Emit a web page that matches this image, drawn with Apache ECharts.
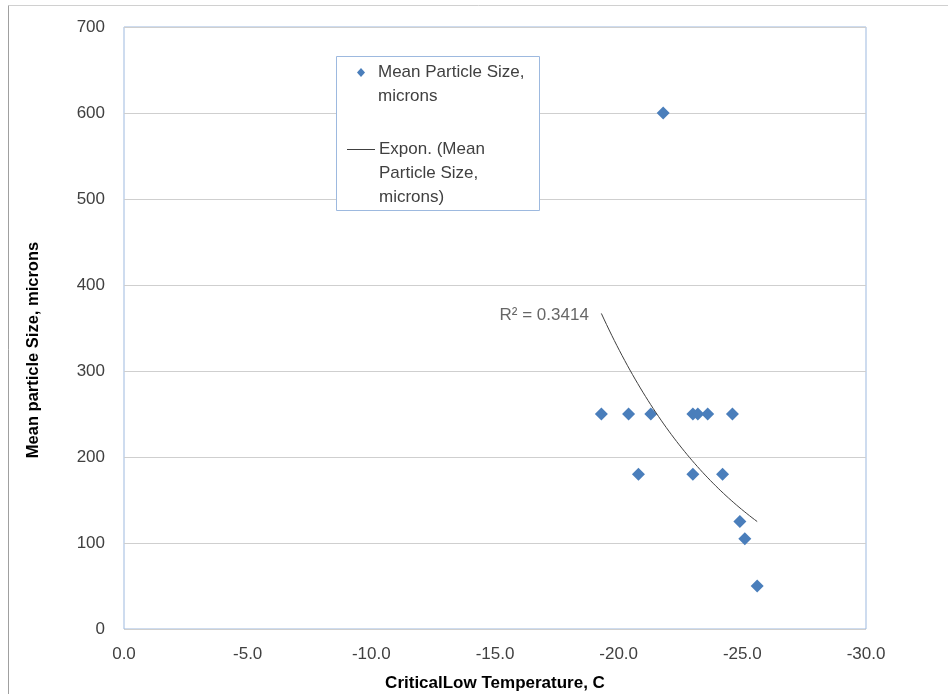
<!DOCTYPE html>
<html>
<head>
<meta charset="utf-8">
<script src="https://cdn.jsdelivr.net/npm/echarts@6/dist/echarts.min.js"></script>
<style>
html,body{margin:0;padding:0;background:#fff;}
#c{width:948px;height:694px;}
</style>
</head>
<body>
<div id="c"></div>
<script>
// Data
const temps = [-19.3, -20.4, -21.3, -20.8, -21.8, -23.0, -23.2, -23.6, -24.6, -23.0, -24.2, -24.9, -25.1, -25.6];
const sizes = [250, 250, 250, 180, 600, 250, 250, 250, 250, 180, 180, 125, 105, 50];
const seriesName = 'Mean Particle Size, microns';
const trendName = 'Expon. (Mean Particle Size, microns)';
const r2Text = 'R² = 0.3414';
const xAxisTitle = 'CriticalLow Temperature, C';
const yAxisTitle = 'Mean particle Size, microns';

// Exponential least-squares fit (Excel "Expon." trendline) of the data above
function expFit(xs, ys) {
  const n = xs.length;
  const ly = ys.map(v => Math.log(v));
  const mx = xs.reduce((a, b) => a + b, 0) / n;
  const my = ly.reduce((a, b) => a + b, 0) / n;
  let sxy = 0, sxx = 0;
  for (let i = 0; i < n; i++) { sxy += (xs[i] - mx) * (ly[i] - my); sxx += (xs[i] - mx) * (xs[i] - mx); }
  const b = sxy / sxx;
  const a = Math.exp(my - b * mx);
  return x => a * Math.exp(b * x);
}
const fit = expFit(temps, sizes);
const xMax = Math.max(...temps), xMin = Math.min(...temps);
const trend = [];
const steps = 60;
for (let i = 0; i <= steps; i++) {
  const x = xMax + (xMin - xMax) * i / steps;
  trend.push([x, fit(x)]);
}

const FONT = 'Liberation Sans';
const chart = echarts.init(document.getElementById('c'), null, { renderer: 'canvas' });
chart.setOption({
  animation: false,
  backgroundColor: '#ffffff',
  grid: {
    left: 124, right: 82, top: 27, bottom: 65,
    show: true, borderColor: '#9DB9DF', borderWidth: 1,
    containLabel: false, outerBoundsMode: 'none'
  },
  xAxis: {
    type: 'value', inverse: true, min: -30, max: 0, interval: 5,
    name: xAxisTitle, nameLocation: 'middle', nameGap: 46,
    nameTextStyle: { fontFamily: FONT, fontSize: 17, fontWeight: 'bold', color: '#000' },
    axisLine: { show: false },
    axisTick: { show: false },
    splitLine: { show: false },
    axisLabel: { margin: 17, fontFamily: FONT, fontSize: 17, color: '#404040',
                 formatter: v => (v === 0 ? 0 : v).toFixed(1) }
  },
  yAxis: {
    type: 'value', min: 0, max: 700, interval: 100,
    name: yAxisTitle, nameLocation: 'middle', nameGap: 82, nameRotate: 90,
    nameTextStyle: { fontFamily: FONT, fontSize: 16.5, fontWeight: 'bold', color: '#000',
                     padding: [0, 44, 0, 0] },
    axisLine: { show: false },
    axisTick: { show: false },
    splitLine: { show: true, lineStyle: { color: '#CFCFCF', width: 1 } },
    axisLabel: { margin: 19, fontFamily: FONT, fontSize: 17, color: '#404040' }
  },
  series: [
    {
      name: seriesName, type: 'scatter', symbol: 'diamond', symbolSize: 13,
      itemStyle: { color: '#4A7EBB', opacity: 1 },
      data: temps.map((t, i) => [t, sizes[i]]),
      z: 3
    },
    {
      name: trendName, type: 'line', showSymbol: false, symbol: 'none', smooth: false,
      lineStyle: { color: '#404040', width: 1 },
      data: trend,
      z: 4
    },
    {
      name: 'R2 label', type: 'scatter', symbol: 'circle', symbolSize: 1,
      itemStyle: { color: 'rgba(0,0,0,0)' }, silent: true,
      label: { show: true, position: 'left', distance: 12, formatter: r2Text,
               color: '#404040', fontSize: 17, fontFamily: FONT, offset: [0, 2] },
      data: [trend[0]],
      z: 5
    }
  ],
  graphic: [
    // outer chart-area frame (top and left edges visible)
    { type: 'line', shape: { x1: 8.5, y1: 5.5, x2: 948, y2: 5.5 }, style: { stroke: '#D0D0D0', lineWidth: 1 } },
    { type: 'line', shape: { x1: 8.5, y1: 5.5, x2: 8.5, y2: 694 }, style: { stroke: '#A0A0A0', lineWidth: 1 } },
    // legend
    { type: 'rect', shape: { x: 336.5, y: 56.5, width: 203, height: 154 },
      style: { fill: '#fff', stroke: '#9DB9DF', lineWidth: 1 }, z: 10 },
    { type: 'polygon', shape: { points: [[361, 68], [365, 72.5], [361, 77], [357, 72.5]] },
      style: { fill: '#4A7EBB' }, z: 11 },
    { type: 'text', x: 378, y: 60, z: 11,
      style: { text: 'Mean Particle Size,\nmicrons', font: '17px "Liberation Sans"', fill: '#404040',
               lineHeight: 24, verticalAlign: 'top' } },
    { type: 'line', shape: { x1: 347, y1: 149.5, x2: 375, y2: 149.5 }, z: 11,
      style: { stroke: '#404040', lineWidth: 1 } },
    { type: 'text', x: 379, y: 137, z: 11,
      style: { text: 'Expon. (Mean\nParticle Size,\nmicrons)', font: '17px "Liberation Sans"', fill: '#404040',
               lineHeight: 24, verticalAlign: 'top' } }
  ]
});
</script>
</body>
</html>
